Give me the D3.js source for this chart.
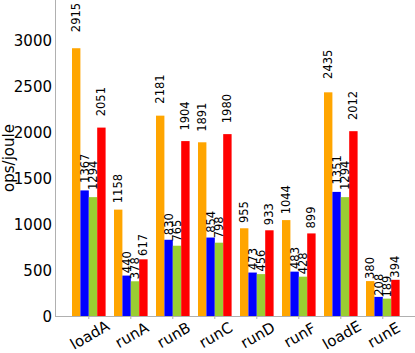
<!DOCTYPE html>
<html lang="en">
<head>
<meta charset="utf-8">
<script src="https://cdnjs.cloudflare.com/ajax/libs/d3/7.8.5/d3.min.js"></script>
<style>
  body { margin: 0; background: #fff; }
  text { font-family: "DejaVu Sans", sans-serif; fill: #000; }
  .axis path, .axis line { stroke: #b0b0b0; }
</style>
</head>
<body>
<script>

var categories = ["loadA", "runA", "runB", "runC", "runD", "runF", "loadE", "runE"];
var seriesKeys = ["s1", "s2", "s3", "s4"];
var seriesColors = ["#ffa500", "#0000ff", "#9acd32", "#ff0000"];
var s1 = [2915, 1158, 2181, 1891, 955, 1044, 2435, 380];
var s2 = [1367, 440, 830, 854, 473, 483, 1351, 208];
var s3 = [1294, 378, 765, 798, 456, 428, 1294, 189];
var s4 = [2051, 617, 1904, 1980, 933, 899, 2012, 394];
var yTicks = [0, 500, 1000, 1500, 2000, 2500, 3000];

var W = 415, H = 353;
var left = 55, bottom = 316;

var data = categories.map(function(c, i) {
  return { cat: c, vals: [s1[i], s2[i], s3[i], s4[i]] };
});

var svg = d3.select("body").append("svg")
    .attr("width", W)
    .attr("height", H);

var x = d3.scaleBand().domain(categories)
    .range([67.8, 403.8])
    .paddingInner(0.2)
    .paddingOuter(0.1);

var xs = d3.scaleBand().domain(seriesKeys)
    .range([0, x.bandwidth()]);

var y = d3.scaleLinear().domain([0, 3440]).range([bottom, 0]);

// bars
var groups = svg.selectAll(".grp")
    .data(data)
  .enter().append("g")
    .attr("class", "grp")
    .attr("transform", function(d) { return "translate(" + x(d.cat) + ",0)"; });

groups.selectAll("rect")
    .data(function(d) { return d.vals; })
  .enter().append("rect")
    .attr("x", function(v, j) { return xs(seriesKeys[j]); })
    .attr("y", function(v) { return y(v); })
    .attr("width", xs.bandwidth())
    .attr("height", function(v) { return bottom - y(v); })
    .attr("fill", function(v, j) { return seriesColors[j]; });

// value labels
groups.selectAll("text")
    .data(function(d) { return d.vals; })
  .enter().append("text")
    .attr("transform", function(v, j) {
      return "translate(" + (xs(seriesKeys[j]) + xs.bandwidth() / 2) + "," + y(v * 1.06) + ") rotate(-90)";
    })
    .attr("dy", "0.35em")
    .style("font-size", "11.5px")
    .style("text-anchor", "start")
    .text(function(v) { return v; });

// axes
var yAxis = d3.axisLeft(y).tickValues(yTicks).tickFormat(d3.format("d")).tickSize(0).tickPadding(3);
var gy = svg.append("g")
    .attr("class", "axis")
    .attr("transform", "translate(" + left + ",0)")
    .call(yAxis);
gy.select(".domain").attr("d", "M0.5,0V" + (bottom + 0.5));
gy.selectAll("text").style("font-size", "15px").attr("dy", "0.35em");

var xAxis = d3.axisBottom(x).tickSize(3).tickFormat("");
var gx = svg.append("g")
    .attr("class", "axis")
    .attr("transform", "translate(0," + bottom + ")")
    .call(xAxis);
gx.select(".domain").attr("d", "M" + left + ",0.5H" + W);

svg.selectAll(".xlab")
    .data(categories)
  .enter().append("text")
    .attr("class", "xlab")
    .attr("transform", function(c) {
      return "translate(" + (x(c) + x.bandwidth() / 2 + 1) + ",335) rotate(-30)";
    })
    .attr("dy", "0.35em")
    .style("font-size", "15px")
    .style("text-anchor", "middle")
    .text(function(c) { return c; });

svg.append("text")
    .attr("transform", "translate(9," + (bottom / 2) + ") rotate(-90)")
    .attr("dy", "0.35em")
    .style("font-size", "15px")
    .style("text-anchor", "middle")
    .text("ops/joule");

</script>
</body>
</html>
